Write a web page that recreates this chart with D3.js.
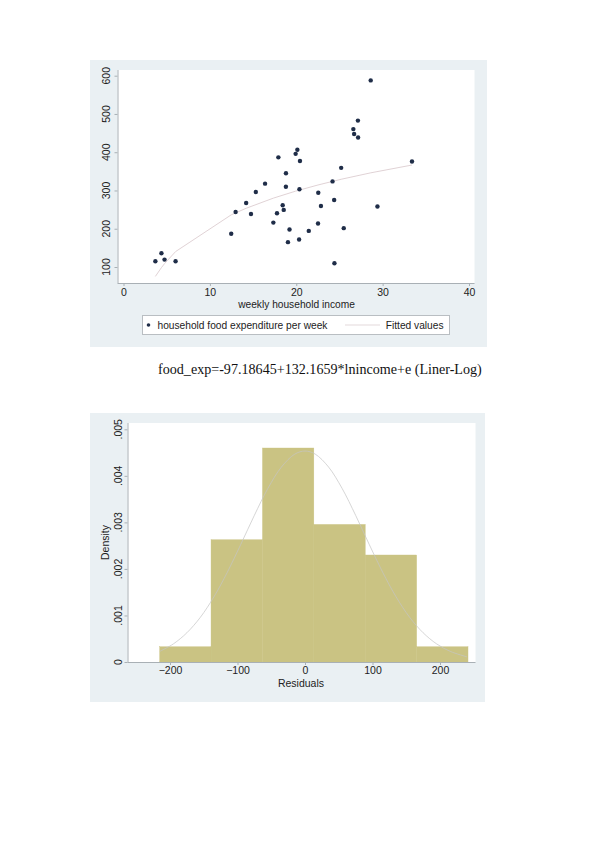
<!DOCTYPE html>
<html><head><meta charset="utf-8">
<script src="https://cdn.jsdelivr.net/npm/d3@7"></script>
<style>html,body{margin:0;padding:0;background:#fff;}svg{display:block;}</style>
</head><body>
<svg id="c" width="596" height="842"></svg>
<script>
// ---- Top chart data ----
const income = [3.69,4.39,4.75,6.03,12.47,12.98,14.2,14.76,15.32,16.39,17.35,17.77,17.93,18.43,18.55,18.8,18.81,19.04,19.22,19.93,20.13,20.33,20.37,20.43,21.45,22.52,22.55,22.86,24.2,24.39,24.42,25.2,25.5,26.61,26.7,27.14,27.16,28.62,29.4,33.4];
const foodExp = [115.2,136.0,119.3,115.0,187.1,243.9,267.4,238.7,295.9,317.8,216.0,240.4,386.6,261.5,249.3,309.9,345.2,165.0,198.1,395.8,406.3,171.9,303.2,377.0,194.4,213.5,293.9,259.6,323.7,275.0,109.7,359.2,201.5,460.4,447.8,482.6,438.3,587.7,258.0,375.7];
const fitX = [3.69,4.39,4.75,6.03,12.47,14.2,17.35,19.93,22.52,25.2,28.62,33.4];
const fitY = [75.4,98.3,108.8,140.3,236.3,253.5,280.0,298.3,314.4,329.3,346.1,366.5];
const topXTicks = [0,10,20,30,40];
const topYTicks = [100,200,300,400,500,600];

// ---- Bottom chart data ----
const binEdges = [-215.3,-139.2,-63.0,13.1,89.2,165.4,241.5];
const binDensity = [0.000328,0.002627,0.004598,0.002956,0.002299,0.000328];
const normX = [-215,-195,-175,-155,-135,-115,-95,-75,-55,-35,-15,0,15,35,55,75,95,115,135,155,175,195,215,240];
const normY = [0.000229,0.000389,0.000628,0.000961,0.001398,0.001930,0.002531,0.003152,0.003729,0.004188,0.004468,0.004533,0.004468,0.004188,0.003729,0.003152,0.002531,0.001930,0.001398,0.000961,0.000628,0.000389,0.000229,0.000110];
const botXTicks = [-200,-100,0,100,200];
const botYTicks = [0,0.001,0.002,0.003,0.004,0.005];
const botYLabels = ["0",".001",".002",".003",".004",".005"];

const svg = d3.select("#c");
const FONT = "'Liberation Sans', Arial, sans-serif";
const PANEL = "#eaf0f3";
const AXIS = "#a9b0b5";

function styleAxis(a){
  a.selectAll(".tick line").attr("stroke",AXIS);
  a.selectAll("text").attr("font-family",FONT).attr("font-size","10.5px").attr("fill","#222");
}
function rotateYLabels(a, scale, off){
  a.selectAll(".tick").attr("transform",null);
  a.selectAll(".tick line").attr("y1",d=>scale(d)+0.5).attr("y2",d=>scale(d)+0.5);
  a.selectAll(".tick text").attr("x",0).attr("y",0).attr("dy","0.35em").attr("text-anchor","middle")
    .attr("transform",d=>"translate("+off+","+scale(d)+") rotate(-90)");
}

// ================= TOP CHART =================
const gTop = svg.append("g");
gTop.append("rect").attr("x",90).attr("y",60).attr("width",397).attr("height",287).attr("fill",PANEL);
gTop.append("rect").attr("x",117.5).attr("y",70).attr("width",357).attr("height",213).attr("fill","#fff");

const x1 = d3.scaleLinear().domain([0,40]).range([123.5,469]);
const y1 = d3.scaleLinear().domain([100,600]).range([267,75.7]);

const xa1 = gTop.append("g").attr("transform","translate(0,283)")
  .call(d3.axisBottom(x1).tickValues(topXTicks).tickSize(3).tickPadding(3).tickFormat(d3.format("d")));
xa1.select(".domain").attr("d","M117.5,0.5H474.5").attr("stroke",AXIS);
const ya1 = gTop.append("g").attr("transform","translate(117.5,0)")
  .call(d3.axisLeft(y1).tickValues(topYTicks).tickSize(3).tickFormat(d3.format("d")));
ya1.select(".domain").attr("d","M0.5,70V283").attr("stroke",AXIS);
styleAxis(xa1); styleAxis(ya1);
rotateYLabels(ya1, y1, -11);

gTop.append("text").attr("x",296.5).attr("y",308).attr("text-anchor","middle")
  .attr("font-family",FONT).attr("font-size","10.2px").attr("fill","#222").text("weekly household income");

// fitted line
gTop.append("path").datum(fitX.map((v,i)=>[v,fitY[i]]))
  .attr("d",d3.line().x(d=>x1(d[0])).y(d=>y1(d[1])))
  .attr("fill","none").attr("stroke","#dccdd0").attr("stroke-width",0.9);
// points
gTop.selectAll("circle.pt").data(income.map((v,i)=>[v,foodExp[i]])).enter().append("circle")
  .attr("class","pt").attr("cx",d=>x1(d[0])).attr("cy",d=>y1(d[1])).attr("r",2.2).attr("fill","#1f2d48");

// legend
const lg = gTop.append("g");
lg.append("rect").attr("x",142.5).attr("y",315.5).attr("width",307).attr("height",19).attr("fill","#fff").attr("stroke","#b9bec2");
lg.append("circle").attr("cx",148.5).attr("cy",325).attr("r",1.8).attr("fill","#1f2d48");
lg.append("text").attr("x",157.5).attr("y",328.6).attr("font-family",FONT).attr("font-size","10.2px").attr("fill","#222")
  .text("household food expenditure per week");
lg.append("line").attr("x1",345).attr("x2",380).attr("y1",325).attr("y2",325).attr("stroke","#e3d9db").attr("stroke-width",1);
lg.append("text").attr("x",443.5).attr("y",328.6).attr("text-anchor","end").attr("font-family",FONT).attr("font-size","10.2px").attr("fill","#222")
  .text("Fitted values");

// caption
svg.append("text").attr("x",158).attr("y",374).attr("font-family","'Liberation Serif','Times New Roman',serif")
  .attr("font-size","14.1px").attr("fill","#111").text("food_exp=-97.18645+132.1659*lnincome+e (Liner-Log)");

// ================= BOTTOM CHART =================
const gBot = svg.append("g");
gBot.append("rect").attr("x",90).attr("y",413).attr("width",395).attr("height",289).attr("fill",PANEL);
gBot.append("rect").attr("x",127.5).attr("y",423).attr("width",348).attr("height",239).attr("fill","#fff");

const x2 = d3.scaleLinear().domain([-200,200]).range([170,440]);
const y2 = d3.scaleLinear().domain([0,0.005]).range([662,429.3]);

gBot.selectAll("rect.bar").data(binDensity).enter().append("rect").attr("class","bar")
  .attr("x",(d,i)=>x2(binEdges[i])).attr("width",(d,i)=>x2(binEdges[i+1])-x2(binEdges[i]))
  .attr("y",d=>y2(d)).attr("height",d=>y2(0)-y2(d)).attr("fill","#cac383")
  .attr("stroke","#cac383").attr("stroke-width",0.4);
gBot.append("path").datum(normX.map((v,i)=>[v,normY[i]]))
  .attr("d",d3.line().curve(d3.curveCatmullRom).x(d=>x2(d[0])).y(d=>y2(d[1])))
  .attr("fill","none").attr("stroke","#c4c4c4").attr("stroke-width",0.7);

const xa2 = gBot.append("g").attr("transform","translate(0,662)")
  .call(d3.axisBottom(x2).tickValues(botXTicks).tickSize(3).tickPadding(2).tickFormat(d3.format("d")));
xa2.select(".domain").attr("d","M127.5,0.5H475.5").attr("stroke",AXIS);
const ya2 = gBot.append("g").attr("transform","translate(127.5,0)")
  .call(d3.axisLeft(y2).tickValues(botYTicks).tickSize(3).tickFormat((d,i)=>botYLabels[i]));
ya2.select(".domain").attr("d","M0.5,423V662").attr("stroke",AXIS);
styleAxis(xa2); styleAxis(ya2);
rotateYLabels(ya2, y2, -9.5);

gBot.append("text").attr("x",301).attr("y",687).attr("text-anchor","middle")
  .attr("font-family",FONT).attr("font-size","10.5px").attr("fill","#222").text("Residuals");
gBot.append("text").attr("transform","translate(108.5,542.5) rotate(-90)").attr("text-anchor","middle")
  .attr("font-family",FONT).attr("font-size","10.5px").attr("fill","#222").text("Density");
</script>
</body></html>
